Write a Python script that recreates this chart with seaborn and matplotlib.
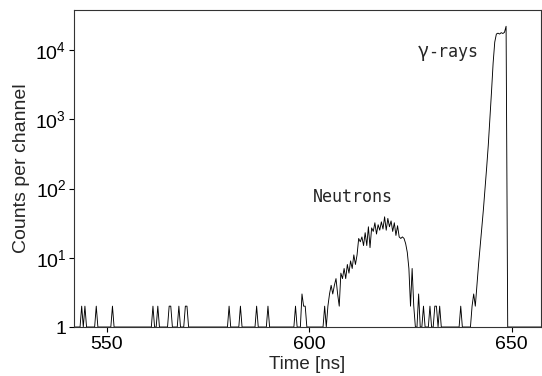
import numpy as np
import pandas as pd
import matplotlib
matplotlib.use("Agg")
import matplotlib.pyplot as plt
import seaborn as sns
from matplotlib.ticker import LogLocator, FuncFormatter, NullLocator, FixedLocator

# ---------------- data ----------------
channel_start = 542.2      # ns, first channel
channel_width = 0.4        # ns
channel_end = 657.4        # ns
baseline_count = 1

# isolated single-count spikes (time in ns, counts)
spike_times = [543.8, 544.8, 547.4, 551.4, 561.4, 562.6, 565.4, 565.8, 567.8,
               569.4, 569.8, 580.2, 583.0, 587.0, 589.8, 596.6, 598.2, 598.6,
               599.0, 629.8, 631.2, 631.6, 632.4, 637.2, 637.6, 640.2]
spike_counts = [2, 2, 2, 2, 2, 2, 2, 2, 2,
                2, 2, 2, 2, 2, 2, 2, 3, 2,
                2, 2, 2, 2, 2, 2, 2, 2]

# neutron bump
neutron_start = 603.4
neutron_counts = [1, 2, 1, 2, 3, 4, 3, 4, 5, 3, 2, 6, 5, 7, 5, 8, 6, 9, 7, 11,
                  8, 11, 19, 17, 20, 15, 23, 15, 28, 14, 27, 24, 32, 22, 30, 25,
                  33, 26, 39, 25, 37, 28, 34, 24, 32, 21, 29, 20, 19, 20, 19, 16,
                  12, 7, 2, 7, 2, 1, 1, 3, 1, 1, 2, 1]

# gamma-ray peak
gamma_start = 640.6
gamma_counts = [3, 2, 4, 8, 15, 27, 50, 100, 200, 420, 1000, 2500, 6500, 13000,
                17000, 17500, 17000, 17800, 17300, 18000, 22000]

# ---------------- build histogram table ----------------
n_ch = int(round((channel_end - channel_start) / channel_width)) + 1
time = channel_start + channel_width * np.arange(n_ch)
counts = np.full(n_ch, float(baseline_count))

def idx(t):
    return int(round((t - channel_start) / channel_width))

for t, c in zip(spike_times, spike_counts):
    counts[idx(t)] = c
for i, c in enumerate(neutron_counts):
    counts[idx(neutron_start) + i] = c
for i, c in enumerate(gamma_counts):
    counts[idx(gamma_start) + i] = c

df = pd.DataFrame({"Time [ns]": time, "Counts per channel": counts})

# ---------------- plot ----------------
sns.set_style("ticks")
plt.rcParams["font.family"] = ["Liberation Sans", "DejaVu Sans"]
plt.rcParams["mathtext.fontset"] = "custom"
plt.rcParams["mathtext.rm"] = "Liberation Sans"
plt.rcParams["mathtext.default"] = "regular"

fig = plt.figure(figsize=(5.42, 3.76), dpi=100)
ax = fig.add_axes([0.1365, 0.1303, 0.8615, 0.8431])

sns.lineplot(data=df, x="Time [ns]", y="Counts per channel", ax=ax,
             color="black", linewidth=0.65)

ax.set_yscale("log")
ax.set_xlim(541.9, 657.2)
ax.set_ylim(1, 37800)

ax.xaxis.set_major_locator(FixedLocator([550, 600, 650]))
ax.yaxis.set_major_locator(LogLocator(base=10, numticks=10))
ax.yaxis.set_minor_locator(NullLocator())

def fmt(v, pos):
    e = int(round(np.log10(v)))
    return "1" if e == 0 else r"$10^{%d}$" % e
ax.yaxis.set_major_formatter(FuncFormatter(fmt))

ax.tick_params(axis="both", which="major", direction="out", length=3.5,
               width=0.8, labelsize=14, colors="black")
ax.tick_params(axis="y", pad=2)
ax.tick_params(axis="x", pad=3)
for s in ax.spines.values():
    s.set_linewidth(0.8)
    s.set_color("#333333")

ax.set_xlabel("Time [ns]", fontsize=13.5, labelpad=2)
ax.set_ylabel("Counts per channel", fontsize=14, labelpad=4)

ax.text(600.8, 64, "Neutrons", fontsize=12, family="DejaVu Sans Mono")
ax.text(626.8, 7900, "\u03b3", fontsize=14,
        family=["Noto Sans CJK JP", "DejaVu Sans"])
ax.text(629.3, 7900, "-rays", fontsize=12, family="DejaVu Sans Mono")

fig.savefig("out.png", dpi=100)
